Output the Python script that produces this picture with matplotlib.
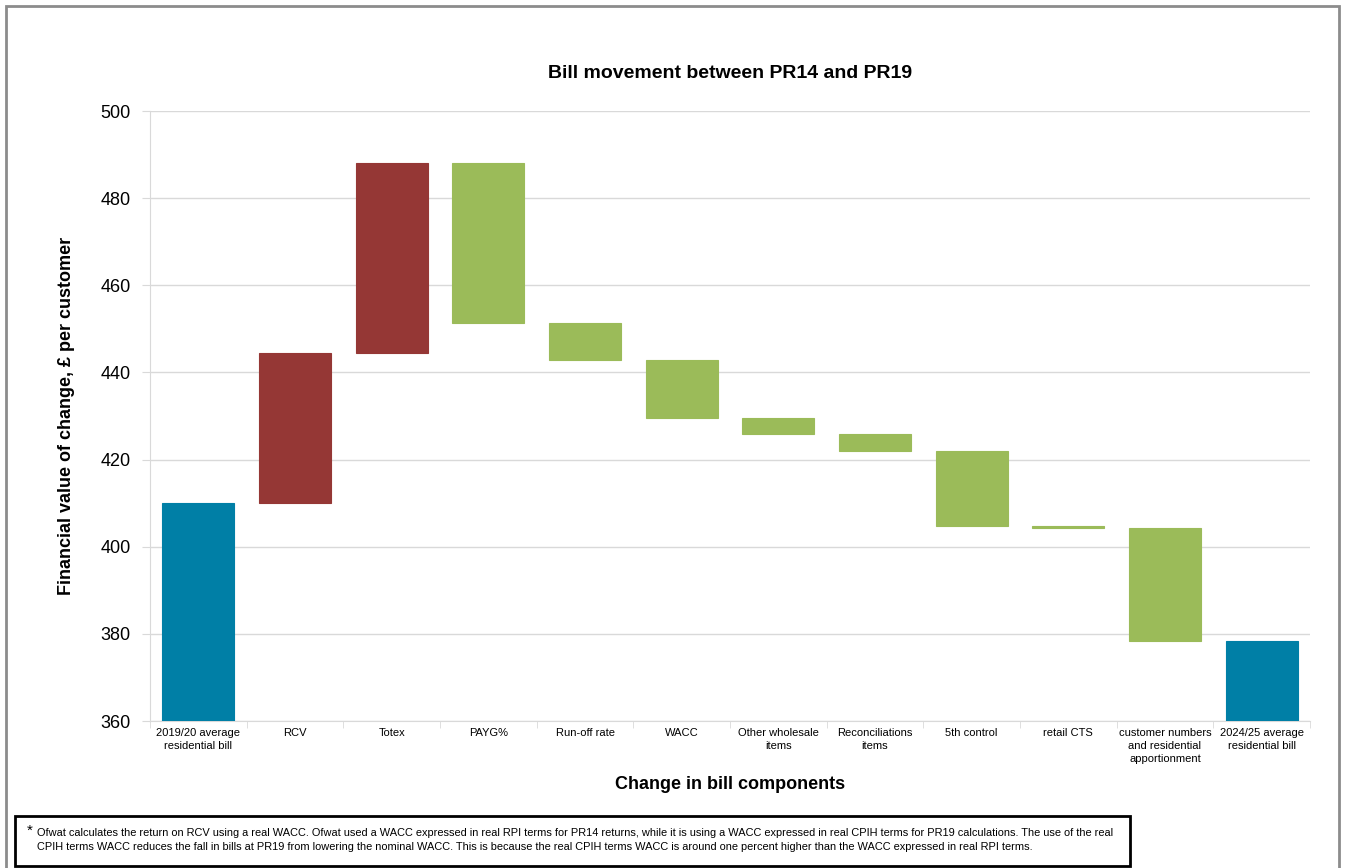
import matplotlib.pyplot as plt
from matplotlib.patches import Rectangle

plt.rcParams['font.family'] = ['Liberation Sans', 'DejaVu Sans']

labels = ["2019/20 average\nresidential bill", "RCV", "Totex", "PAYG%", "Run-off rate",
          "WACC", "Other wholesale\nitems", "Reconciliations\nitems", "5th control",
          "retail CTS", "customer numbers\nand residential\napportionment",
          "2024/25 average\nresidential bill"]
start_bill = 410.0
changes = [34.5, 43.6, -36.8, -8.4, -13.4, -3.6, -3.9, -17.2, -0.4, -26.0]

blue = "#007FA6"
red = "#953735"
green = "#9BBB59"

# waterfall bottoms and heights
bottoms = [360]
heights = [start_bill - 360]
colors = [blue]
level = start_bill
for c in changes:
    bottoms.append(min(level, level + c))
    heights.append(abs(c))
    colors.append(red if c > 0 else green)
    level += c
bottoms.append(360)
heights.append(level - 360)
colors.append(blue)

fig = plt.figure(figsize=(13.47, 8.68), dpi=100)
ax = fig.add_axes([150/1347, 1 - 721/868, 1160/1347, 610/868])

x = list(range(len(labels)))
ax.bar(x, heights, bottom=bottoms, width=0.745, color=colors,
       edgecolor=colors, linewidth=0.8, zorder=3)

ax.set_xlim(-0.5, len(labels) - 0.5)
ax.set_ylim(360, 500)
ax.set_yticks(range(360, 501, 20))
ax.tick_params(axis='y', labelsize=13, length=6, color="#D9D9D9", pad=8)
ax.grid(axis='y', color="#D9D9D9", linewidth=1, zorder=0)

ax.set_xticks(x)
ax.set_xticklabels(labels, fontsize=8, linespacing=1.35)
ax.tick_params(axis='x', length=0, pad=5)
ax.set_xticks([i - 0.5 for i in range(len(labels) + 1)], minor=True)
ax.tick_params(axis='x', which='minor', length=5, color="#D9D9D9")

for side in ['top', 'right']:
    ax.spines[side].set_visible(False)
for side in ['left', 'bottom']:
    ax.spines[side].set_color("#D9D9D9")

ax.set_title("Bill movement between PR14 and PR19", fontsize=14, fontweight='bold', pad=24)
ax.set_ylabel("Financial value of change, £ per customer", fontsize=13, fontweight='bold', labelpad=18)
ax.set_xlabel("Change in bill components", fontsize=13, fontweight='bold', labelpad=9)

# outer chart border
fig.patches.append(Rectangle((6/1347, -0.01), 1333/1347, 1 - 6/868 + 0.01,
                             transform=fig.transFigure, fill=False,
                             edgecolor="#8C8C8C", linewidth=2))

# footnote box
fig.patches.append(Rectangle((15/1347, 1 - 866/868), 1115/1347, 50/868,
                             transform=fig.transFigure, fill=True, facecolor="white",
                             edgecolor="black", linewidth=2, zorder=5))
fig.text(27/1347, 1 - 831/868, "*", fontsize=11, va='center', zorder=6)
fig.text(37/1347, 1 - 840/868,
         "Ofwat calculates the return on RCV using a real WACC. Ofwat used a WACC expressed in real RPI terms "
         "for PR14 returns, while it is using a WACC expressed in real CPIH terms for PR19 calculations. The use of the real\n"
         "CPIH terms WACC reduces the fall in bills at PR19 from lowering the nominal WACC. This is because the real CPIH "
         "terms WACC is around one percent higher than the WACC expressed in real RPI terms.",
         fontsize=7.95, va='center', linespacing=1.6, zorder=6)

fig.savefig("out.png", dpi=100)
